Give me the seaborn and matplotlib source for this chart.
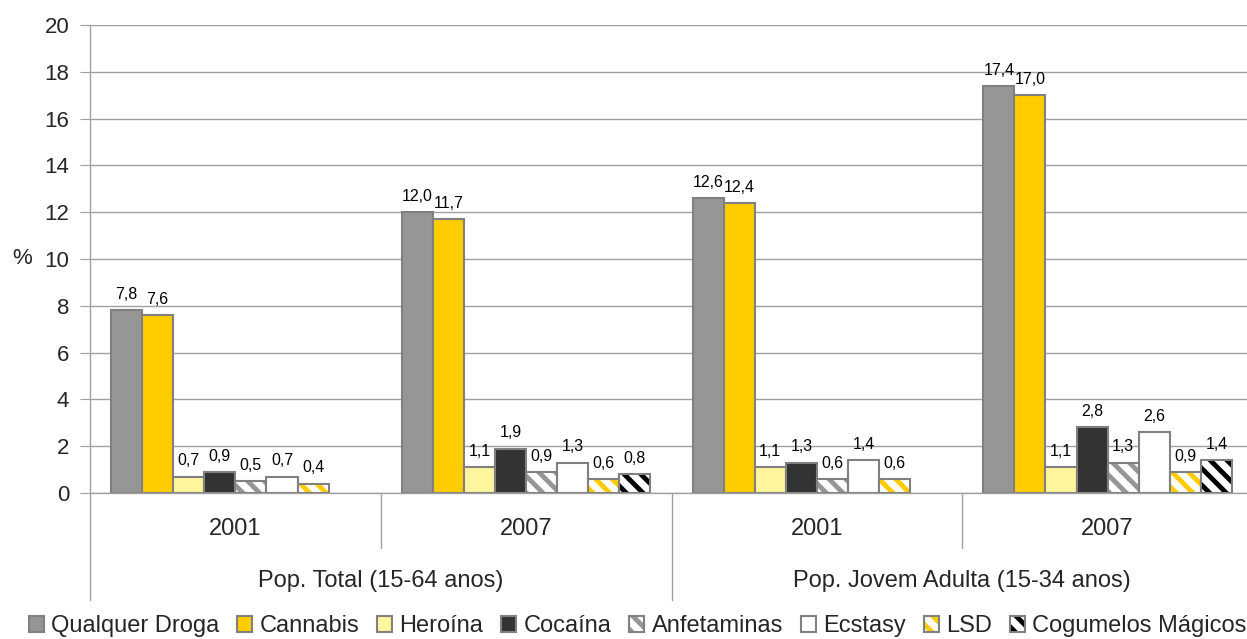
import pandas as pd
import numpy as np
import matplotlib
matplotlib.use('Agg')
import matplotlib.pyplot as plt
import seaborn as sns
from matplotlib.patches import Patch, Rectangle
from matplotlib.legend_handler import HandlerTuple

# dados (%), valores
grupos = ['Total 2001', 'Total 2007', 'Jovem 2001', 'Jovem 2007']
anos = ['2001', '2007', '2001', '2007']
populacoes = ['Pop. Total (15-64 anos)', 'Pop. Jovem Adulta (15-34 anos)']
drogas = ['Qualquer Droga', 'Cannabis', 'Heroína', 'Cocaína', 'Anfetaminas',
          'Ecstasy', 'LSD', 'Cogumelos Mágicos']
total_2001 = [7.8, 7.6, 0.7, 0.9, 0.5, 0.7, 0.4, np.nan]
total_2007 = [12.0, 11.7, 1.1, 1.9, 0.9, 1.3, 0.6, 0.8]
jovem_2001 = [12.6, 12.4, 1.1, 1.3, 0.6, 1.4, 0.6, np.nan]
jovem_2007 = [17.4, 17.0, 1.1, 2.8, 1.3, 2.6, 0.9, 1.4]

cores = ['#969696', '#FFCC00', '#FFF59D', '#333333', 'white', 'white', 'white', 'white']
hatches = [None, None, None, None, '\\\\', None, '\\\\', '\\\\']
cor_hatch = [None, None, None, None, '#969696', None, '#FFCC00', 'black']
borda = '#808080'

rows = []
for g, vals in zip(grupos, [total_2001, total_2007, jovem_2001, jovem_2007]):
    for d, v in zip(drogas, vals):
        rows.append({'grupo': g, 'droga': d, 'valor': v})
df = pd.DataFrame(rows).dropna()

sns.set_style('white')
plt.rcParams['font.family'] = ['Liberation Sans', 'DejaVu Sans']
plt.rcParams['hatch.linewidth'] = 3.5

fig = plt.figure(figsize=(12.47, 6.39), dpi=100)
ax = fig.add_axes([90/1247, 1 - 493/639, (1253 - 90)/1247, (493 - 25)/639])

sns.barplot(data=df, x='grupo', y='valor', hue='droga', order=grupos, hue_order=drogas,
            palette=dict(zip(drogas, cores)), width=248/290, edgecolor=borda,
            linewidth=1.5, saturation=1, legend=False, ax=ax, zorder=2)

# barras tracejadas: cor do tracejado = edgecolor, contorno cinza por cima
for i, cont in enumerate(ax.containers):
    for bar in cont:
        if hatches[i]:
            bar.set_hatch(hatches[i])
            bar.set_edgecolor(cor_hatch[i])
            bar.set_linewidth(0)
            ax.add_patch(Rectangle(bar.get_xy(), bar.get_width(), bar.get_height(),
                                   fill=False, edgecolor=borda, linewidth=1.5, zorder=3))
    ax.bar_label(cont, labels=[f'{b.get_height():.1f}'.replace('.', ',') for b in cont],
                 padding=6, fontsize=11.5, color='black')

ax.set_ylim(0, 20)
ax.set_xlim(-0.5, 3.5)
ax.set_yticks(range(0, 21, 2))
ax.yaxis.grid(True, color='#A0A0A0', linewidth=1)
ax.set_axisbelow(True)
ax.tick_params(axis='y', labelsize=16, length=7, color='#A0A0A0', pad=8, left=True)
ax.set_xticks(range(len(grupos)))
ax.set_xticklabels([])
ax.tick_params(axis='x', length=0)
ax.set_xlabel('')
ax.set_ylabel('')
for s in ['top', 'right']:
    ax.spines[s].set_visible(False)
for s in ['left', 'bottom']:
    ax.spines[s].set_color('#A0A0A0')
    ax.spines[s].set_linewidth(1)

# eixo x em dois níveis
tr = ax.get_xaxis_transform()
h = 468
for i, a in enumerate(anos):
    ax.text(i, -36/h, a, transform=tr, ha='center', va='center', fontsize=17)
for j, p in enumerate(populacoes):
    ax.text(2*j + 0.5, -88/h, p, transform=tr, ha='center', va='center', fontsize=17)
for xs, ybot in [(-0.5, -107/h), (0.5, -55/h), (1.5, -107/h), (2.5, -55/h), (3.5, -107/h)]:
    ax.plot([xs, xs], [0, ybot], transform=tr, color='#A0A0A0', linewidth=1, clip_on=False)

fig.text(22/1247, 1 - 258/639, '%', ha='center', va='center', fontsize=16)

handles = []
for c, hh, ch in zip(cores, hatches, cor_hatch):
    if hh:
        handles.append((Patch(facecolor=c, edgecolor=ch, hatch=hh, linewidth=0),
                        Patch(fill=False, edgecolor=borda, linewidth=1.5)))
    else:
        handles.append(Patch(facecolor=c, edgecolor=borda, linewidth=1.5))
fig.legend(handles, drogas, loc='center left', bbox_to_anchor=(29/1247, 1 - 626/639),
           ncol=8, frameon=False, fontsize=17, handlelength=0.64, handleheight=0.64,
           handletextpad=0.3, columnspacing=0.76, borderaxespad=0, borderpad=0,
           handler_map={tuple: HandlerTuple(ndivide=1, pad=0)})

fig.savefig('out.png', dpi=100)
